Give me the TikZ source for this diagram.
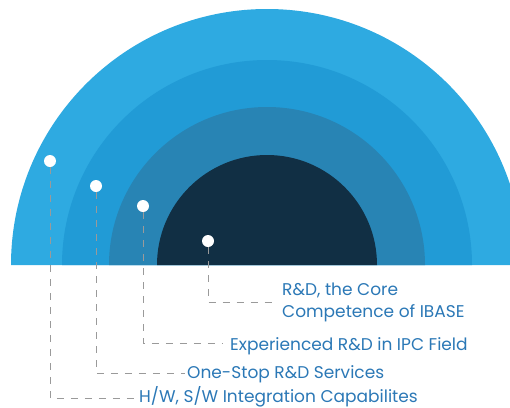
\documentclass[tikz,border=0pt]{standalone}
\usepackage{fontspec}
\setmainfont{Poppins}
\definecolor{ringA}{HTML}{2EAAE1}
\definecolor{ringB}{HTML}{219BD6}
\definecolor{ringC}{HTML}{2884B4}
\definecolor{ringD}{HTML}{112F44}
\definecolor{txtblue}{HTML}{2B78B6}
\definecolor{dashgray}{HTML}{9A9A9A}
\begin{document}
\begin{tikzpicture}[x=1pt,y=-1pt,
  dot/.style={circle,fill=white,inner sep=0pt,minimum size=12pt},
  lbl/.style={anchor=base west,inner sep=0pt,text=txtblue,font=\fontsize{17}{22}\selectfont,align=left},
  conn/.style={draw=dashgray,line width=1pt,dash pattern=on 7pt off 7pt}]
\useasboundingbox (0,0) rectangle (510,407);
\begin{scope}
\clip (0,0) rectangle (510,407);
\fill[ringA] (11,265) arc[start angle=180,end angle=360,radius=256] -- cycle;
\fill[ringB] (62,265) arc[start angle=180,end angle=360,radius=205] -- cycle;
\fill[ringC] (109,265) arc[start angle=180,end angle=360,radius=158] -- cycle;
\fill[ringD] (157,265) arc[start angle=180,end angle=360,radius=110] -- cycle;
\end{scope}
\node[dot] (d1) at (50,161) {};
\node[dot] (d2) at (96,186) {};
\node[dot] (d3) at (143,206) {};
\node[dot] (d4) at (208,241) {};
\node[lbl] (t4) at (282,317.7) {R\&D, the Core\\Competence of IBASE};
\node[lbl] (t3) at (230,350) {Experienced R\&D in IPC Field};
\node[lbl] (t2) at (187,378.3) {One-Stop R\&D Services};
\node[lbl] (t1) at (139,402.5) {H/W, S/W Integration Capabilites};
\coordinate (e4) at (278,302.7);
\coordinate (e3) at (222,343.3);
\coordinate (e2) at (185,373.3);
\coordinate (e1) at (137,398.3);
\draw[conn] (d4.south) |- (e4);
\draw[conn] (d3.south) |- (e3);
\draw[conn] (d2.south) |- (e2);
\draw[conn] (d1.south) |- (e1);
\end{tikzpicture}
\end{document}
